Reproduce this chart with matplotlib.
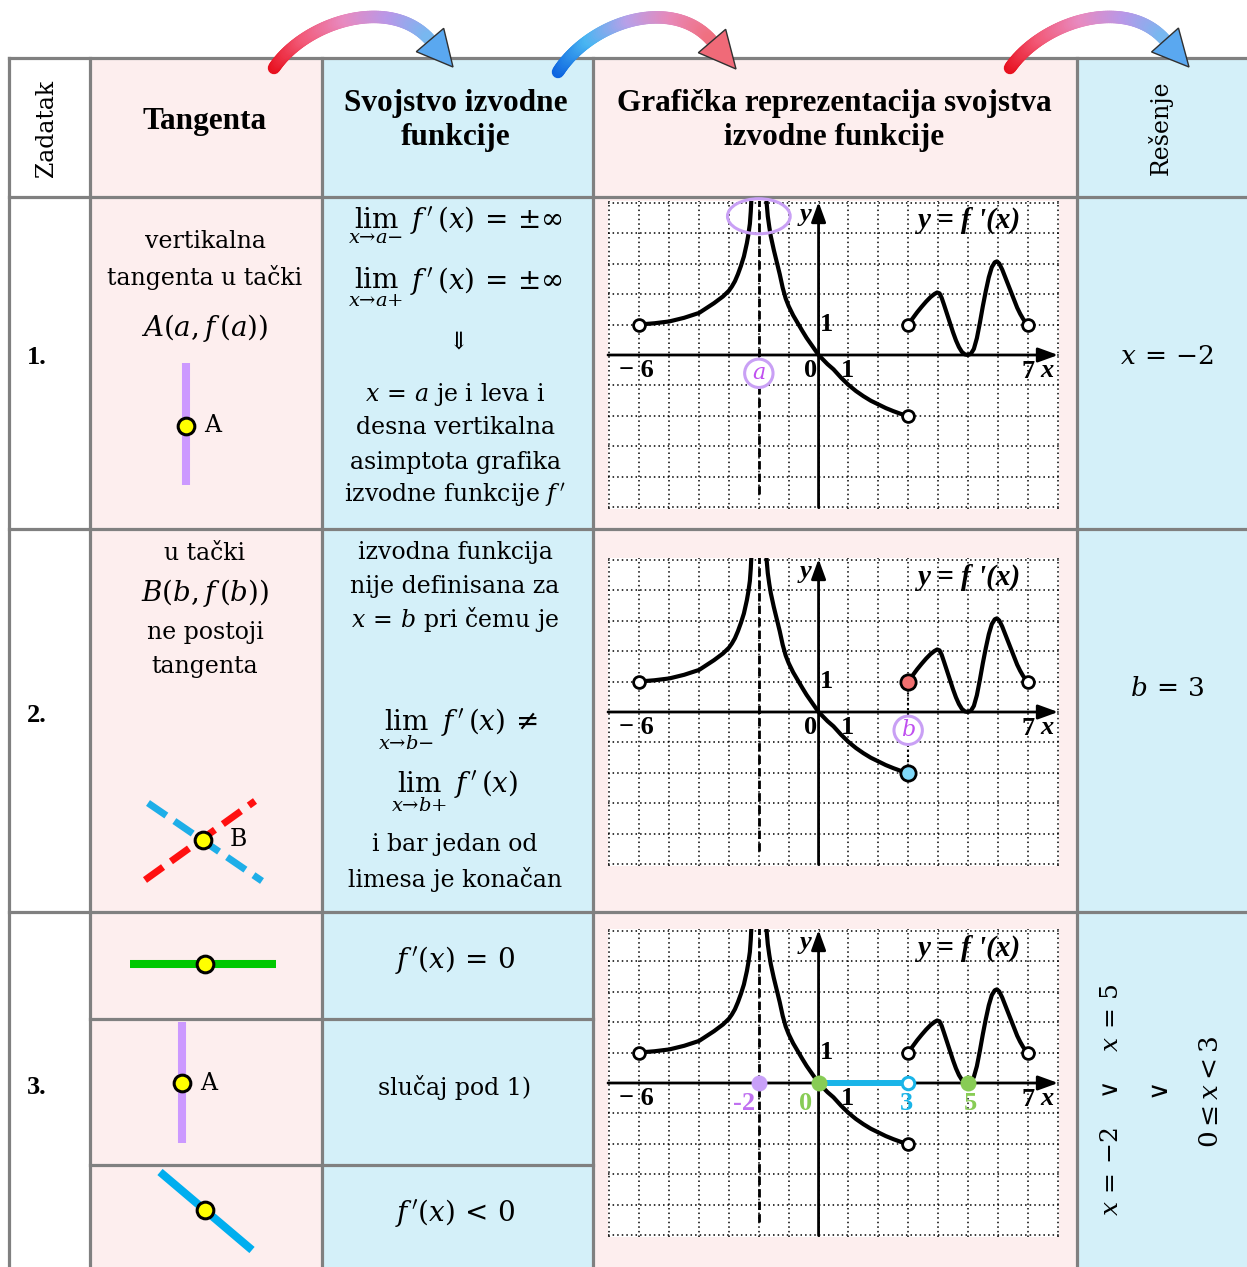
import numpy as np
import matplotlib.pyplot as plt
from matplotlib.patches import Rectangle, Ellipse, Polygon
from matplotlib.collections import LineCollection
from matplotlib.colors import LinearSegmentedColormap

plt.rcParams['font.family'] = ['DejaVu Serif']
plt.rcParams['mathtext.fontset'] = 'dejavuserif'

W, H = 1247, 1267

# f'(x): three pieces
left_x = [-6, -5.5, -5, -4.5, -4, -3.5, -3.2, -3, -2.9, -2.8, -2.7, -2.6, -2.5, -2.4,
          -2.35, -2.3, -2.27, -2.24, -2.22]
left_y = [1.0, 1.04, 1.1, 1.22, 1.38, 1.7, 1.92, 2.11, 2.25, 2.42, 2.65, 2.92, 3.23, 3.67,
          3.95, 4.3, 4.7, 5.3, 5.7]
mid_x = [-1.78, -1.74, -1.7, -1.65, -1.6, -1.5, -1.4, -1.3, -1.2, -1.1, -1.0, -0.85, -0.7,
         -0.55, -0.4, -0.2, 0, 0.15, 0.3, 0.5, 0.75, 1.0, 1.25, 1.5, 1.75, 2.0, 2.25, 2.5,
         2.75, 3.0]
mid_y = [5.6, 5.0, 4.55, 4.2, 3.9, 3.45, 3.05, 2.65, 2.2, 1.85, 1.6, 1.3, 1.05, 0.8, 0.56,
         0.28, 0, -0.15, -0.3, -0.47, -0.74, -0.98, -1.18, -1.35, -1.5, -1.62, -1.74, -1.84,
         -1.93, -2.0]
right_x = [3, 3.15, 3.3, 3.45, 3.6, 3.75, 3.88, 3.97, 4.05, 4.12, 4.2, 4.3, 4.4, 4.5, 4.6,
           4.7, 4.8, 4.9, 5.0, 5.1, 5.2, 5.3, 5.4, 5.5, 5.6, 5.7, 5.8, 5.9, 5.97, 6.05, 6.15,
           6.25, 6.35, 6.45, 6.55, 6.65, 6.75, 6.85, 6.93, 7.0]
right_y = [1.0, 1.2, 1.4, 1.58, 1.75, 1.9, 2.0, 2.05, 2.02, 1.88, 1.65, 1.35, 1.05, 0.75,
           0.48, 0.26, 0.1, 0.02, 0.0, 0.04, 0.2, 0.55, 1.05, 1.6, 2.1, 2.55, 2.88, 3.04,
           3.07, 3.0, 2.8, 2.55, 2.3, 2.05, 1.8, 1.55, 1.35, 1.18, 1.08, 1.0]
open_x = [-6, 3, 3, 7]
open_y = [1, -2, 1, 1]
asym_x = -2

# table layout in pixels
col_edges = [9, 90, 322, 593, 1077, 1250]
row_edges = [58, 197, 529, 912, 1270]
sub_edges = [1019, 1165]
graph_centers = [355, 712, 1083]

PINK = '#FDEEEE'
BLUE = '#D4F0F9'
GRAY = '#808080'
col_fill = ['white', PINK, BLUE, PINK, BLUE]

fig = plt.figure(figsize=(W / 100, H / 100), dpi=100)
ax = fig.add_axes([0, 0, 1, 1])
ax.set_xlim(0, W)
ax.set_ylim(H, 0)
ax.axis('off')

for i in range(5):
    ax.add_patch(Rectangle((col_edges[i], row_edges[0]), col_edges[i + 1] - col_edges[i],
                           row_edges[-1] - row_edges[0], fc=col_fill[i], ec='none', zorder=0))
for xe in col_edges[:-1]:
    ax.plot([xe, xe], [row_edges[0], H], color=GRAY, lw=2.3, zorder=2)
for ye in row_edges[:-1]:
    ax.plot([col_edges[0], W], [ye, ye], color=GRAY, lw=2.3, zorder=2)
for ye in sub_edges:
    ax.plot([col_edges[1], col_edges[3]], [ye, ye], color=GRAY, lw=2.3, zorder=2)


def bezier(p0, p1, p2, p3, n=90):
    t = np.linspace(0, 1, n)[:, None]
    p0, p1, p2, p3 = [np.array(p, float) for p in (p0, p1, p2, p3)]
    return (1 - t) ** 3 * p0 + 3 * (1 - t) ** 2 * t * p1 + 3 * (1 - t) * t ** 2 * p2 + t ** 3 * p3


def curved_arrow(pts, tip, colors, head_color):
    path = bezier(*pts)
    segs = np.stack([path[:-1], path[1:]], axis=1)
    cmap = LinearSegmentedColormap.from_list('arr', colors)
    lc = LineCollection(segs, colors=cmap(np.linspace(0, 1, len(segs))), linewidths=9,
                        capstyle='round', zorder=10)
    ax.add_collection(lc)
    base = path[-1]
    d = np.array(tip, float) - base
    d /= np.linalg.norm(d)
    nrm = np.array([-d[1], d[0]])
    tri = [base + nrm * 18, np.array(tip, float), base - nrm * 18]
    ax.add_patch(Polygon(tri, closed=True, fc=head_color, ec='#303030', lw=1, zorder=11))


warm = ['#E8101E', '#F25A78', '#E88AC0', '#B898E8', '#78B8F0']
cool = ['#0C64E0', '#4AB6F2', '#B8A0E8', '#E888B8', '#F07080']
curved_arrow([(274, 68), (305, 22), (390, -5), (430, 40)], (453, 67), warm, '#5AA8F0')
curved_arrow([(558, 72), (590, 22), (672, -5), (712, 41)], (736, 69), cool, '#F06A78')
curved_arrow([(1010, 68), (1042, 22), (1125, -5), (1165, 40)], (1189, 67), warm, '#5AA8F0')

# header
hd = dict(family='Liberation Serif', weight='bold', size=22.5, ha='center', va='center')
ax.text(47, 128, 'Zadatak', rotation=90, size=17, ha='center', va='center')
ax.text(205, 122, 'Tangenta', **hd)
ax.text(456, 104, 'Svojstvo izvodne', **hd)
ax.text(456, 138, 'funkcije', **hd)
ax.text(834, 104, 'Grafička reprezentacija svojstva', **hd)
ax.text(834, 138, 'izvodne funkcije', **hd)
ax.text(1160, 128, 'Rešenje', rotation=90, size=17, ha='center', va='center')

num = dict(family='Liberation Serif', weight='bold', size=19, ha='center', va='center')
ax.text(37, 358, '1.', **num)
ax.text(37, 715, '2.', **num)
ax.text(37, 1087, '3.', **num)

bt = dict(size=17, ha='center', va='center')
mt = dict(size=20, ha='center', va='center')
dot = dict(ms=12, mfc='#FFFF00', mec='k', mew=2.2, zorder=4)

# row 1
ax.text(205, 242, 'vertikalna', **bt)
ax.text(205, 277, 'tangenta u tački', **bt)
ax.text(205, 328, r'$A\left(a,f\,(a)\right)$', **mt)
ax.plot([186, 186], [363, 485], color='#CC99FF', lw=5.8, solid_capstyle='butt', zorder=3)
ax.plot(186, 426, 'o', **dot)
ax.text(213, 426, 'A', **bt)

ax.text(455, 225, r"$\lim_{x\to a-}\ f\,^{\prime}(x)\,=\,{\pm}\infty$", **mt)
ax.text(455, 287, r"$\lim_{x\to a+}\ f\,^{\prime}(x)\,=\,{\pm}\infty$", **mt)
ax.text(455, 342, r"$\Downarrow$", size=17, ha='center', va='center')
ax.text(455, 394, r"$x\,=\,a$ je i leva i", **bt)
ax.text(455, 428, 'desna vertikalna', **bt)
ax.text(455, 462, 'asimptota grafika', **bt)
ax.text(455, 496, r"izvodne funkcije $f\,^{\prime}$", **bt)
ax.text(1167, 357, r'$x\,=\,{-}2$', size=19, ha='center', va='center')

# row 2
ax.text(205, 553, 'u tački', **bt)
ax.text(205, 593, r'$B\left(b,f\,(b)\right)$', **mt)
ax.text(205, 633, 'ne postoji', **bt)
ax.text(205, 667, 'tangenta', **bt)
ax.plot([148, 262], [803, 881], color='#1EAEE8', lw=5, ls=(0, (3.2, 1.4)), zorder=3)
ax.plot([145, 255], [880, 801], color='#FF1010', lw=5, ls=(0, (3.2, 1.4)), zorder=3)
ax.plot(203, 840, 'o', **dot)
ax.text(238, 840, 'B', **bt)

ax.text(455, 552, 'izvodna funkcija', **bt)
ax.text(455, 586, 'nije definisana za', **bt)
ax.text(455, 620, r'$x\,=\,b$ pri čemu je', **bt)
ax.text(458, 729, r"$\lim_{x\to b-}\ f\,^{\prime}(x)\,\neq$", **mt)
ax.text(455, 791, r"$\lim_{x\to b+}\ f\,^{\prime}(x)$", **mt)
ax.text(455, 845, 'i bar jedan od', **bt)
ax.text(455, 879, 'limesa je konačan', **bt)
ax.text(1167, 688, r'$b\,=\,3$', size=19, ha='center', va='center')

# row 3
ax.plot([130, 276], [964, 964], color='#00C800', lw=5.8, solid_capstyle='butt', zorder=3)
ax.plot(205, 964, 'o', **dot)
ax.plot([182, 182], [1022, 1143], color='#CC99FF', lw=5.8, solid_capstyle='butt', zorder=3)
ax.plot(182, 1083, 'o', **dot)
ax.text(209, 1083, 'A', **bt)
ax.plot([160, 252], [1172, 1250], color='#00AEEF', lw=5.8, solid_capstyle='butt', zorder=3)
ax.plot(205, 1210, 'o', **dot)
ax.text(455, 960, r"$f\,^{\prime}(x)\,=\,0$", size=20, ha='center', va='center')
ax.text(455, 1087, 'slučaj pod 1)', **bt)
ax.text(455, 1213, r"$f\,^{\prime}(x)\,<\,0$", size=20, ha='center', va='center')
ax.text(1112, 1100, r"$x\,=\,{-}2\quad\vee\quad x\,=\,5$", rotation=90, size=18,
        ha='center', va='center')
ax.text(1161, 1092, r"$\vee$", rotation=90, size=19, ha='center', va='center')
ax.text(1210, 1092, r"$0 \leq x < 3$", rotation=90, size=19, ha='center', va='center')

# graphs
lab = dict(family='Liberation Serif', weight='bold', size=19, ha='center', va='center')


def draw_graph(cy, panel):
    x0, x1 = 608, 1059
    y0, y1 = cy - 154, cy + 154
    g = fig.add_axes([x0 / W, 1 - y1 / H, (x1 - x0) / W, (y1 - y0) / H])
    g.set_xlim(-7.05, 8.05)
    g.set_ylim(-5.05, 5.05)
    g.set_facecolor('white')
    for s in g.spines.values():
        s.set_visible(False)
    g.set_xticks([])
    g.set_yticks([])
    for k in range(-7, 9):
        g.axvline(k, color='k', lw=1.1, ls=(0, (1, 2)), zorder=1)
    for k in range(-5, 6):
        g.axhline(k, color='k', lw=1.1, ls=(0, (1, 2)), zorder=1)
    arr = dict(arrowstyle='-|>,head_length=0.55,head_width=0.2', lw=2, color='k',
               shrinkA=0, shrinkB=0, mutation_scale=22)
    g.annotate('', xy=(8.02, 0), xytext=(-7.05, 0), arrowprops=arr, zorder=3)
    g.annotate('', xy=(0, 5.02), xytext=(0, -5.0), arrowprops=arr, zorder=3)
    g.plot([asym_x, asym_x], [-4.55, 5.2], color='k', lw=2, ls=(0, (3, 1.5)), zorder=2)
    for xs, ys in ((left_x, left_y), (mid_x, mid_y), (right_x, right_y)):
        g.plot(xs, ys, color='k', lw=3, solid_capstyle='round', solid_joinstyle='round', zorder=4)

    if panel == 2:
        g.plot([3, 3], [1, -2], color='k', lw=1.5, ls=(0, (1, 1.5)), zorder=3)
        g.plot(open_x[:1] + open_x[3:], open_y[:1] + open_y[3:], 'o', ms=8.5, mfc='white',
               mec='k', mew=2, zorder=6)
        g.plot(3, 1, 'o', ms=11, mfc='#F07070', mec='k', mew=2, zorder=6)
        g.plot(3, -2, 'o', ms=11, mfc='#80D8F8', mec='k', mew=2, zorder=6)
    else:
        g.plot(open_x, open_y, 'o', ms=8.5, mfc='white', mec='k', mew=2, zorder=6)

    g.text(-6.1, -0.52, '− 6', **lab)
    g.text(0.97, -0.52, '1', **lab)
    g.text(0.28, 1.0, '1', **lab)
    g.text(7.0, -0.55, '7', **lab)
    g.text(7.63, -0.5, 'x', style='italic', **lab)
    g.text(-0.43, 4.6, 'y', style='italic', **lab)
    g.text(5.05, 4.4, "y = f '(x)", style='italic', family='Liberation Serif', weight='bold',
           size=21, ha='center', va='center')

    if panel == 3:
        g.plot([0, 3], [0, 0], color='#19B4E8', lw=4.3, solid_capstyle='butt', zorder=5)
        g.plot(-2, 0, 'o', ms=11.5, mfc='#C8A0F8', mec='none', zorder=7)
        g.plot([0, 5], [0, 0], 'o', ms=11.5, mfc='#88CC55', mec='none', zorder=7)
        g.plot(3, 0, 'o', ms=9, mfc='white', mec='#19B4E8', mew=2.2, zorder=7)
        g.text(-2.48, -0.68, '-2', color='#C070F0', **lab)
        g.text(-0.43, -0.68, '0', color='#88CC55', **lab)
        g.text(2.93, -0.68, '3', color='#19B4E8', **lab)
        g.text(5.1, -0.68, '5', color='#88CC55', **lab)
    else:
        g.text(-0.27, -0.52, '0', **lab)

    if panel == 1:
        g.add_patch(Ellipse((-2.0, 4.55), 2.1, 1.15, fc='none', ec='#C9A0F5', lw=2.2,
                            zorder=8, clip_on=False))
        g.add_patch(Ellipse((-2.0, -0.6), 0.95, 0.93, fc='white', ec='#C9A0F5', lw=2.2, zorder=8))
        g.text(-2.0, -0.6, 'a', color='#C050F0', family='DejaVu Serif', style='italic',
               size=16, ha='center', va='center', zorder=9)
    if panel == 2:
        g.add_patch(Ellipse((3.0, -0.6), 0.95, 0.93, fc='white', ec='#C9A0F5', lw=2.2, zorder=8))
        g.text(3.0, -0.58, 'b', color='#C050F0', family='DejaVu Serif', style='italic',
               size=16, ha='center', va='center', zorder=9)


for i, cy in enumerate(graph_centers):
    draw_graph(cy, i + 1)

fig.savefig('out.png', dpi=100)
